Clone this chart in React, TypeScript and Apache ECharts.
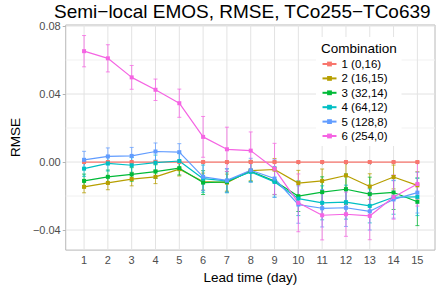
import React, { useEffect, useRef } from "react";
import * as echarts from "echarts";

const days = [1, 2, 3, 4, 5, 6, 7, 8, 9, 10, 11, 12, 13, 14, 15];
const seriesNames = ["1 (0,16)", "2 (16,15)", "3 (32,14)", "4 (64,12)", "5 (128,8)", "6 (254,0)"];
const colors = ["#F8766D", "#B79F00", "#00BA38", "#00BFC4", "#619CFF", "#F564E3"];

const rmse1 = [0, 0, 0, 0, 0, 0, 0, 0, 0, 0, 0, 0, 0, 0, 0];
const rmse2 = [-0.0146, -0.0123, -0.01, -0.0087, -0.0042, -0.0115, -0.0121, -0.005, -0.0044, -0.0124, -0.0111, -0.0079, -0.0144, -0.0088, -0.0137];
const rmse3 = [-0.0111, -0.0087, -0.0073, -0.0056, -0.0036, -0.0121, -0.0117, -0.0054, -0.0112, -0.0201, -0.0177, -0.016, -0.0189, -0.0179, -0.0234];
const rmse4 = [-0.0039, -0.0008, -0.0019, -0.0004, 0.0006, -0.0098, -0.0111, -0.0058, -0.0117, -0.0215, -0.024, -0.0236, -0.0258, -0.0207, -0.0205];
const rmse5 = [0.0013, 0.0033, 0.0036, 0.0062, 0.0058, -0.0087, -0.0108, -0.0048, -0.0097, -0.025, -0.0272, -0.0269, -0.029, -0.022, -0.018];
const rmse6 = [0.0652, 0.061, 0.0498, 0.0425, 0.0346, 0.0148, 0.0075, 0.0067, -0.004, -0.024, -0.0313, -0.0307, -0.0317, -0.0206, -0.0129];

const err1 = [0, 0, 0, 0, 0, 0, 0, 0, 0, 0, 0, 0, 0, 0, 0];
const err2 = [0.0035, 0.004, 0.004, 0.004, 0.004, 0.005, 0.005, 0.006, 0.0065, 0.0075, 0.007, 0.007, 0.0075, 0.007, 0.008];
const err3 = [0.004, 0.004, 0.004, 0.004, 0.004, 0.007, 0.006, 0.006, 0.008, 0.009, 0.009, 0.009, 0.01, 0.01, 0.014];
const err4 = [0.0045, 0.0045, 0.0045, 0.0045, 0.0045, 0.008, 0.007, 0.006, 0.009, 0.01, 0.01, 0.01, 0.01, 0.01, 0.011];
const err5 = [0.005, 0.005, 0.005, 0.005, 0.005, 0.008, 0.007, 0.007, 0.011, 0.011, 0.011, 0.011, 0.011, 0.011, 0.012];
const err6 = [0.0092, 0.008, 0.007, 0.0063, 0.0083, 0.012, 0.013, 0.011, 0.015, 0.017, 0.0145, 0.013, 0.014, 0.013, 0.013];

const yTicks = [-0.04, 0, 0.04, 0.08];
const yMinor = [-0.02, 0.02, 0.06];

const allValues = [rmse1, rmse2, rmse3, rmse4, rmse5, rmse6];
const allErrs = [err1, err2, err3, err4, err5, err6];

const FONT = "Liberation Sans, Arial, sans-serif";

export default function App() {
  const ref = useRef<HTMLDivElement>(null);
  useEffect(() => {
    if (!ref.current) return;
    const chart = echarts.init(ref.current, null, { renderer: "svg" });

    const gridSeries: any[] = [
      {
        type: "custom",
        name: "hgrid",
        z: 0,
        silent: true,
        data: [...yTicks.map((v) => [1, v, 1]), ...yMinor.map((v) => [1, v, 0])],
        renderItem: (params: any, api: any) => {
          const cs = params.coordSys;
          const p = api.coord([1, api.value(1)]);
          const major = api.value(2) === 1;
          return {
            type: "line",
            shape: { x1: cs.x, y1: p[1], x2: cs.x + cs.width, y2: p[1] },
            style: { stroke: major ? "#e3e3e3" : "#f1f1f1", lineWidth: 1 },
          };
        },
      },
      {
        type: "custom",
        name: "vgrid",
        z: 0,
        silent: true,
        data: days.map((d) => [d, 0]),
        renderItem: (params: any, api: any) => {
          const cs = params.coordSys;
          const p = api.coord([api.value(0), 0]);
          return {
            type: "line",
            shape: { x1: p[0], y1: cs.y, x2: p[0], y2: cs.y + cs.height },
            style: { stroke: "#e3e3e3", lineWidth: 1 },
          };
        },
      },
    ];

    const errSeries = allValues.map((vals, i) => ({
      type: "custom",
      name: "err" + i,
      z: 2,
      silent: true,
      data: days.map((d, j) => [d, vals[j] - allErrs[i][j], vals[j] + allErrs[i][j]]),
      renderItem: (params: any, api: any) => {
        const x = api.value(0);
        const pLo = api.coord([x, api.value(1)]);
        const pHi = api.coord([x, api.value(2)]);
        const w = 2;
        const style = { stroke: colors[i], lineWidth: 1, opacity: 0.75 };
        return {
          type: "group",
          children: [
            { type: "line", shape: { x1: pLo[0], y1: pLo[1], x2: pHi[0], y2: pHi[1] }, style },
            { type: "line", shape: { x1: pLo[0] - w, y1: pLo[1], x2: pLo[0] + w, y2: pLo[1] }, style },
            { type: "line", shape: { x1: pHi[0] - w, y1: pHi[1], x2: pHi[0] + w, y2: pHi[1] }, style },
          ],
        };
      },
    }));

    const lineSeries = allValues.map((vals, i) => ({
      type: "line",
      name: seriesNames[i],
      z: 3,
      data: days.map((d, j) => [d, vals[j]]),
      symbol: "rect",
      symbolSize: 4,
      showSymbol: true,
      lineStyle: { color: colors[i], width: 1.2 },
      itemStyle: { color: colors[i] },
      emphasis: { disabled: true },
    }));

    chart.setOption({
      animation: false,
      textStyle: { fontFamily: FONT },
      title: [
        {
          text: "Semi\u2212local EMOS, RMSE, TCo255\u2212TCo639",
          left: 54,
          top: 2,
          padding: 0,
          textStyle: { fontSize: 19, fontWeight: "normal", color: "#000", fontFamily: FONT },
        },
        {
          text: "Combination",
          left: 321,
          top: 41,
          padding: 0,
          textStyle: { fontSize: 13.5, fontWeight: "normal", color: "#000", fontFamily: FONT },
        },
      ],
      legend: {
        data: seriesNames,
        orient: "vertical",
        left: 316,
        top: 37,
        padding: [21, 14, 4, 5.5],
        backgroundColor: "#ffffff",
        itemWidth: 14,
        itemHeight: 6,
        itemGap: 2.4,
        itemTextGap: 3,
        textStyle: { fontSize: 11.5, color: "#000", fontFamily: FONT },
      },
      grid: {
        left: 53,
        right: 6,
        top: 25,
        bottom: 35,
        show: true,
        borderColor: "#b8b8b8",
        borderWidth: 1,
        backgroundColor: "#fff",
      },
      xAxis: {
        type: "value",
        min: 0.23,
        max: 15.74,
        name: "Lead time (day)",
        nameLocation: "middle",
        nameGap: 17,
        nameTextStyle: { fontSize: 13.5, color: "#000", fontFamily: FONT },
        axisLine: { show: false },
        splitLine: { show: false },
        axisTick: { show: true, length: 3, lineStyle: { color: "#b3b3b3" }, customValues: days },
        axisLabel: {
          customValues: days,
          margin: 4,
          fontSize: 11,
          color: "#4d4d4d",
          fontFamily: FONT,
          formatter: (v: number) => String(v),
        },
      },
      yAxis: {
        type: "value",
        min: -0.0518,
        max: 0.0806,
        name: "RMSE",
        nameLocation: "middle",
        nameGap: 42,
        nameTextStyle: { fontSize: 13.5, color: "#000", fontFamily: FONT },
        axisLine: { show: false },
        splitLine: { show: false },
        axisTick: { show: true, length: 3, lineStyle: { color: "#b3b3b3" }, customValues: yTicks },
        axisLabel: {
          customValues: yTicks,
          margin: 5,
          fontSize: 11,
          color: "#4d4d4d",
          fontFamily: FONT,
          formatter: (v: number) => v.toFixed(2).replace("-", "\u2212"),
        },
      },
      series: [...gridSeries, ...errSeries, ...lineSeries],
    });
    return () => chart.dispose();
  }, []);
  return <div ref={ref} style={{ position: "absolute", left: 0, top: 0, width: 441, height: 289 }} />;
}
